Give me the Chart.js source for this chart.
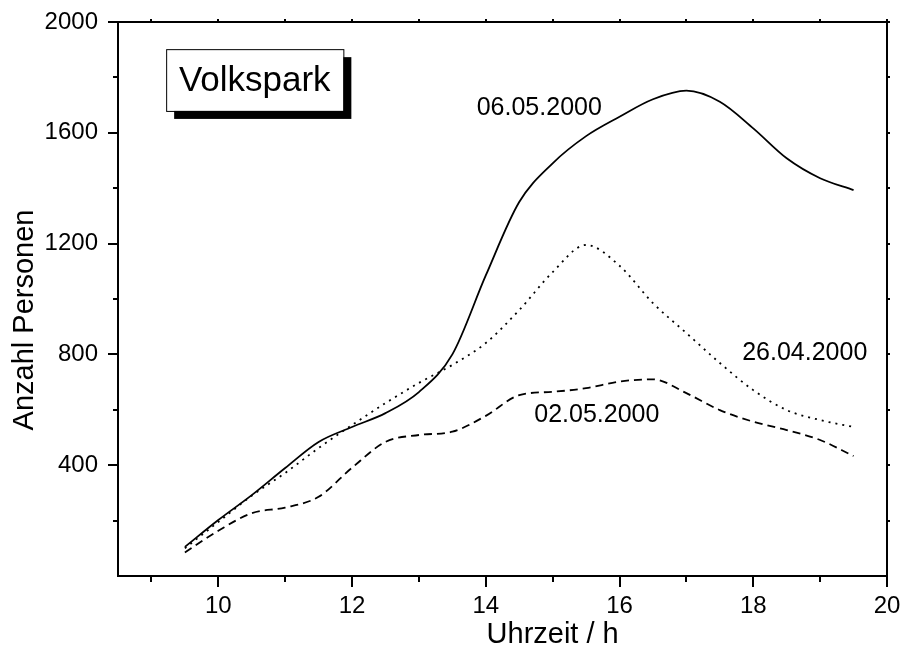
<!DOCTYPE html>
<html>
<head>
<meta charset="utf-8">
<script src="https://cdn.jsdelivr.net/npm/chart.js@4/dist/chart.umd.min.js"></script>
<style>
  html, body { margin: 0; padding: 0; background: #fff; }
  canvas { display: block; }
</style>
</head>
<body>
<canvas id="chart" width="903" height="648"></canvas>
<script>
// Uhrzeit (h)
const hours = [9.5, 10, 10.5, 11, 11.5, 12, 12.5, 13, 13.5, 14, 14.5, 15, 15.5, 16, 16.5, 17, 17.5, 18, 18.5, 19, 19.5];
// Anzahl Personen
const may06 = [105, 202, 292, 390, 484, 538, 588, 664, 800, 1085, 1350, 1490, 1588, 1658, 1721, 1752, 1712, 1616, 1508, 1436, 1393];
const apr26 = [100, 195, 290, 372, 462, 545, 624, 697, 762, 841, 960, 1097, 1195, 1120, 985, 877, 769, 671, 599, 563, 538];
const may02 = [85, 163, 227, 247, 286, 391, 484, 509, 521, 578, 653, 665, 678, 702, 710, 660, 599, 557, 527, 491, 433];

const xLabelTicks = [10, 12, 14, 16, 18, 20];
const xMinorTicks = [9, 11, 13, 15, 17, 19];
const yLabelTicks = [400, 800, 1200, 1600, 2000];
const yMinorTicks = [200, 600, 1000, 1400, 1800];

const FONT = '"Liberation Sans", Arial, sans-serif';

function toPoints(vals) {
    return hours.map((h, i) => ({ x: h, y: vals[i] }));
}

const frameAndText = {
    id: 'frameAndText',
    afterDatasetsDraw(chart) {
        const { ctx, chartArea: a, scales: { x, y } } = chart;
        ctx.save();
        ctx.strokeStyle = '#000';
        ctx.fillStyle = '#000';
        ctx.lineWidth = 2;
        ctx.lineCap = 'butt';
        ctx.strokeRect(a.left, a.top, a.right - a.left, a.bottom - a.top);

        // tick marks
        ctx.beginPath();
        xLabelTicks.concat(xMinorTicks).forEach(v => {
            const px = Math.round(x.getPixelForValue(v));
            const len = xLabelTicks.includes(v) ? 11 : 6;
            ctx.moveTo(px, a.bottom); ctx.lineTo(px, a.bottom + len);
            ctx.moveTo(px, a.top); ctx.lineTo(px, a.top - 3);
        });
        yLabelTicks.concat(yMinorTicks).forEach(v => {
            const py = Math.round(y.getPixelForValue(v));
            const len = yLabelTicks.includes(v) ? 10 : 5;
            ctx.moveTo(a.left, py); ctx.lineTo(a.left - len, py);
            ctx.moveTo(a.right, py); ctx.lineTo(a.right + 3, py);
        });
        ctx.stroke();

        // series labels
        ctx.font = '25px ' + FONT;
        ctx.textAlign = 'center';
        ctx.textBaseline = 'middle';
        ctx.fillText('06.05.2000', x.getPixelForValue(14.8), y.getPixelForValue(1690));
        ctx.fillText('26.04.2000', x.getPixelForValue(18.77), y.getPixelForValue(805));
        ctx.fillText('02.05.2000', x.getPixelForValue(15.66), y.getPixelForValue(581));

        // Volkspark box with shadow
        const bx = x.getPixelForValue(9.22), by = y.getPixelForValue(1902);
        const bw = x.getPixelForValue(11.87) - bx, bh = y.getPixelForValue(1679) - by;
        ctx.fillRect(bx + 8, by + 8, bw, bh);
        ctx.fillStyle = '#fff';
        ctx.fillRect(bx, by, bw, bh);
        ctx.lineWidth = 1;
        ctx.strokeRect(bx + 0.5, by + 0.5, bw, bh);
        ctx.fillStyle = '#000';
        ctx.font = '35px ' + FONT;
        ctx.fillText('Volkspark', bx + bw / 2, by + bh / 2 + 1);

        // axis titles
        ctx.font = '29px ' + FONT;
        ctx.fillText('Uhrzeit / h', x.getPixelForValue(15), a.bottom + 59);
        ctx.translate(25, a.top + 298);
        ctx.rotate(-Math.PI / 2);
        ctx.fillText('Anzahl Personen', 0, 0);
        ctx.restore();
    }
};

const lineStyle = {
    borderColor: '#000',
    borderWidth: 1.8,
    pointRadius: 0,
    fill: false,
    cubicInterpolationMode: 'monotone'
};

new Chart(document.getElementById('chart'), {
    type: 'line',
    data: {
        datasets: [
            { ...lineStyle, label: '06.05.2000', data: toPoints(may06) },
            { ...lineStyle, label: '26.04.2000', data: toPoints(apr26), borderDash: [2, 5] },
            { ...lineStyle, label: '02.05.2000', data: toPoints(may02), borderDash: [8, 5] }
        ]
    },
    options: {
        responsive: false,
        animation: false,
        layout: { padding: { top: 22, right: 16, left: 0, bottom: 0 } },
        plugins: { legend: { display: false }, tooltip: { enabled: false } },
        scales: {
            x: {
                type: 'linear',
                min: 8.5,
                max: 20,
                grid: { display: false },
                border: { display: false },
                afterBuildTicks: s => { s.ticks = xLabelTicks.map(v => ({ value: v })); },
                afterFit: s => { s.height = 72; s.paddingLeft = 0; s.paddingRight = 0; },
                ticks: {
                    color: '#000',
                    font: { family: FONT, size: 24 },
                    padding: 8,
                    maxRotation: 0,
                    autoSkip: false,
                    callback: v => String(v)
                }
            },
            y: {
                type: 'linear',
                min: 0,
                max: 2000,
                grid: { display: false },
                border: { display: false },
                afterBuildTicks: s => { s.ticks = yLabelTicks.map(v => ({ value: v })); },
                afterFit: s => { s.width = 118; s.paddingTop = 0; s.paddingBottom = 0; },
                ticks: {
                    color: '#000',
                    font: { family: FONT, size: 24 },
                    padding: 12,
                    autoSkip: false,
                    callback: v => String(v)
                }
            }
        }
    },
    plugins: [frameAndText]
});
</script>
</body>
</html>
